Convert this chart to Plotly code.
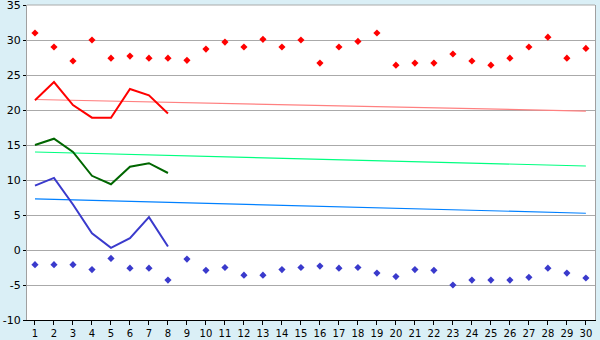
import plotly.graph_objects as go

days = list(range(1, 31))
red_pts = [31, 29, 27, 30, 27.4, 27.7, 27.4, 27.4, 27.1, 28.7,
           29.7, 29.0, 30.1, 29.0, 30.0, 26.7, 29.0, 29.8, 31.0, 26.4,
           26.7, 26.7, 28.0, 27.0, 26.4, 27.4, 29.0, 30.4, 27.4, 28.8]
blue_pts = [-2.1, -2.1, -2.1, -2.8, -1.2, -2.6, -2.6, -4.3, -1.3, -2.9,
            -2.5, -3.6, -3.6, -2.8, -2.5, -2.3, -2.6, -2.5, -3.3, -3.8,
            -2.8, -2.9, -5.0, -4.3, -4.3, -4.3, -3.9, -2.6, -3.3, -4.0]
line_days = list(range(1, 9))
red_line = [21.4, 24.0, 20.7, 18.9, 18.9, 23.0, 22.1, 19.5]
green_line = [15.0, 15.9, 14.0, 10.6, 9.4, 11.9, 12.4, 11.0]
blue_line = [9.2, 10.3, 6.5, 2.4, 0.3, 1.7, 4.7, 0.5]
trend_days = [1, 30]
red_trend = [21.5, 19.85]
green_trend = [14.0, 12.0]
blue_trend = [7.3, 5.25]
y_ticks = list(range(-10, 36, 5))

fig = go.Figure()
fig.add_trace(go.Scatter(x=trend_days, y=red_trend, mode="lines", line=dict(color="#ff8080", width=1.2)))
fig.add_trace(go.Scatter(x=trend_days, y=green_trend, mode="lines", line=dict(color="#00ff80", width=1.2)))
fig.add_trace(go.Scatter(x=trend_days, y=blue_trend, mode="lines", line=dict(color="#0080ff", width=1.2)))
fig.add_trace(go.Scatter(x=days, y=red_pts, mode="markers",
                         marker=dict(symbol="diamond", size=5.5, color="#ff0000")))
fig.add_trace(go.Scatter(x=days, y=blue_pts, mode="markers",
                         marker=dict(symbol="diamond", size=5.5, color="#3a3acc")))
fig.add_trace(go.Scatter(x=line_days, y=red_line, mode="lines", line=dict(color="#ff0000", width=2)))
fig.add_trace(go.Scatter(x=line_days, y=green_line, mode="lines", line=dict(color="#006600", width=2)))
fig.add_trace(go.Scatter(x=line_days, y=blue_line, mode="lines", line=dict(color="#3a3acc", width=2)))

fig.update_layout(
    width=600, height=340,
    margin=dict(l=27, r=5, t=5, b=20),
    paper_bgcolor="#daeff6", plot_bgcolor="#ffffff",
    showlegend=False,
    font=dict(family="DejaVu Sans", size=12, color="#000000"),
    xaxis=dict(range=[0.58, 30.48], tickmode="array", tickvals=days,
               ticktext=[str(d) for d in days], showgrid=False, zeroline=False,
               showline=True, linecolor="#000000", linewidth=1,
               ticks="outside", ticklen=4, tickcolor="#000000",
               ticklabeloverflow="allow", automargin=False,
               tickfont=dict(family="DejaVu Sans", size=10, color="#000000")),
    yaxis=dict(range=[-10, 35], tickmode="array", tickvals=y_ticks,
               ticktext=[str(v) for v in y_ticks],
               showgrid=True, gridcolor="#aaaaaa", gridwidth=1, zeroline=False,
               showline=True, linecolor="#a0a0a0", linewidth=1, mirror=True,
               ticks="outside", ticklen=3, tickcolor="#000000",
               ticklabeloverflow="allow", automargin=False,
               tickfont=dict(family="DejaVu Sans", size=11, color="#000000")),
    shapes=[dict(type="line", xref="paper", yref="paper", x0=0, x1=1, y0=1, y1=1,
                 line=dict(color="#aaaaaa", width=1))],
)
fig.write_html("out.html")
